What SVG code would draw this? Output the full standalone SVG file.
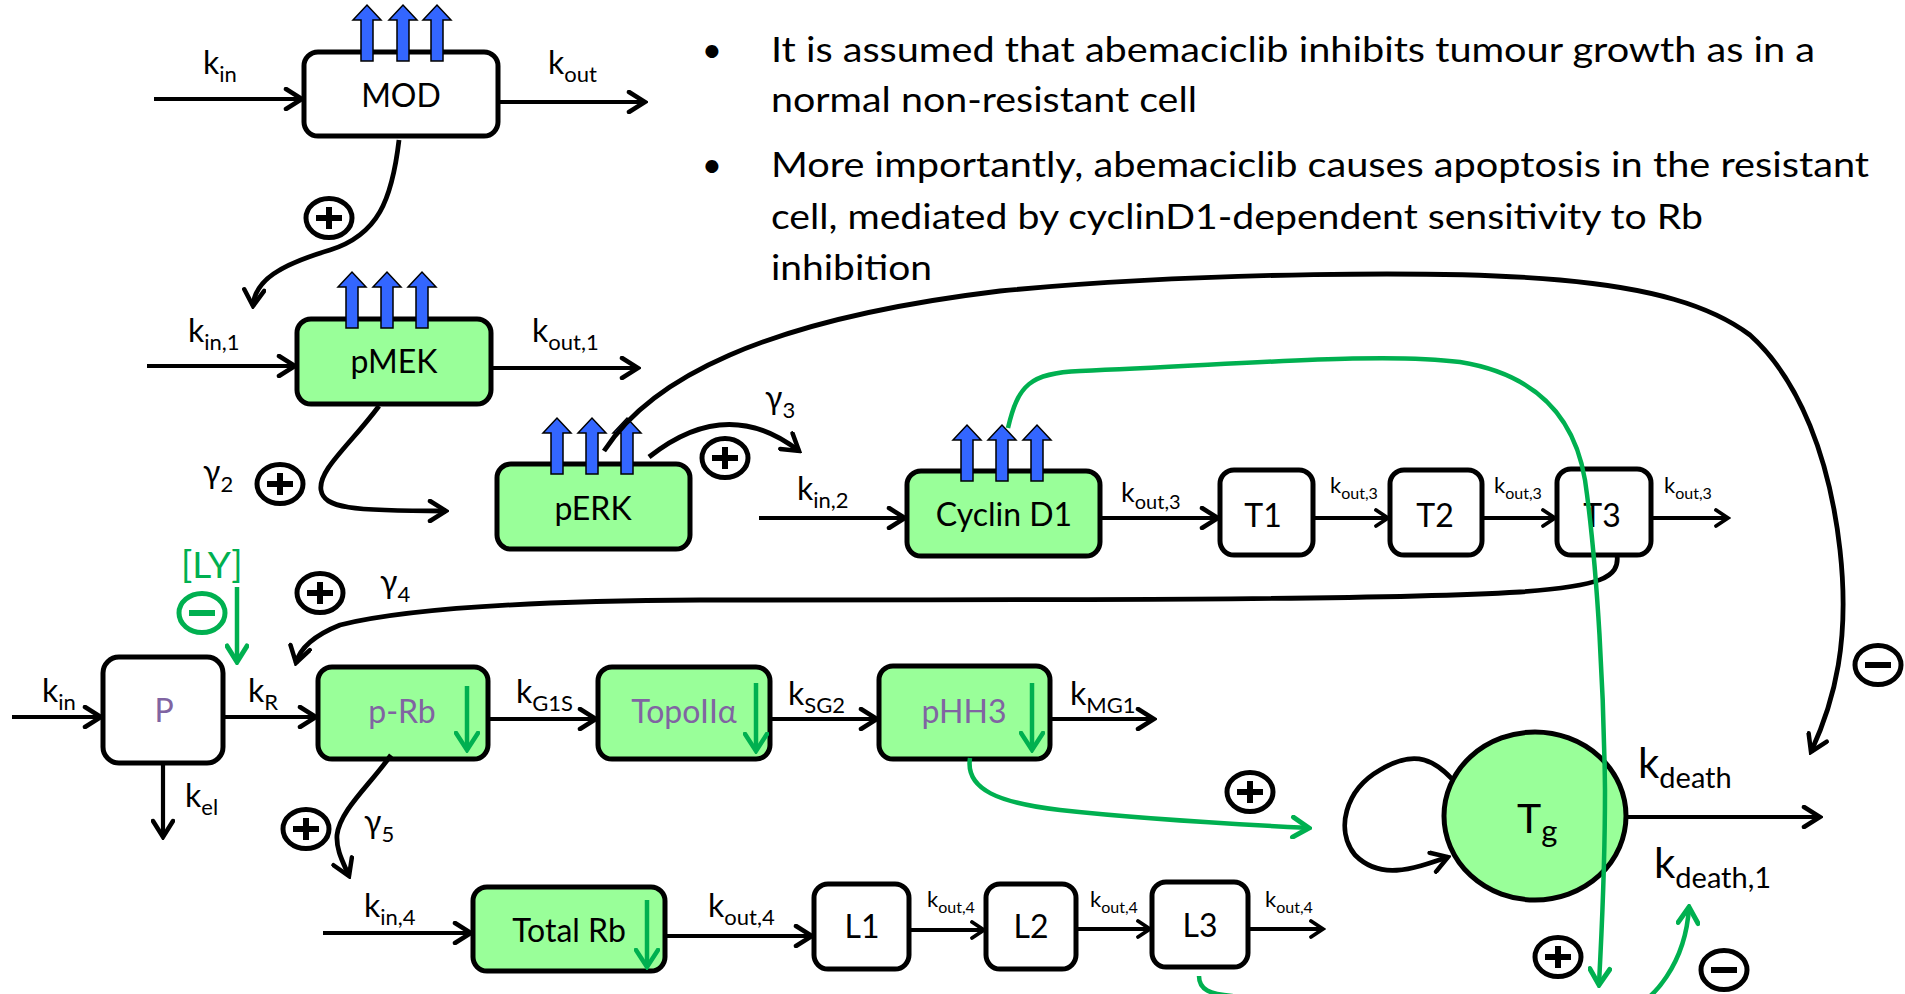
<svg xmlns="http://www.w3.org/2000/svg" xmlns:xlink="http://www.w3.org/1999/xlink" width="1905" height="994" viewBox="0 0 1905 994">
<style>
.box{stroke:#000;stroke-width:5}
.w{fill:#fff}
.g{fill:#99FF99}
text{font-family:Lato,"Liberation Sans",sans-serif;fill:#000}
.lbl{font-size:32px;text-anchor:middle}
.pur{fill:#8064A2}
.k{font-size:32px}
.ks{font-size:22px}
.sm{font-size:22px}
.sms{font-size:16px}
.md{font-size:27px}
.mds{font-size:20px}
.bul{font-size:35px}
.ln{fill:none;stroke:#000;stroke-width:4.2;marker-end:url(#ah)}
.cv{stroke-width:4.8}
.lns{fill:none;stroke:#000;stroke-width:3.8;marker-end:url(#ahs)}
.gl{fill:none;stroke:#00B050;stroke-width:4.5;marker-end:url(#gah)}
.gd{fill:none;stroke:#00B050;stroke-width:4.5;marker-end:url(#gahs)}
.ba{fill:#3366FF;stroke:#000;stroke-width:1.5}
.sym{fill:none;stroke:#000;stroke-width:5}
.bar{stroke:#000;stroke-width:6;fill:none}
.gsym{fill:none;stroke:#00B050;stroke-width:5}
.gbar{stroke:#00B050;stroke-width:6;fill:none}
</style>
<defs>
<marker id="ah" markerUnits="userSpaceOnUse" viewBox="0 0 22 24" markerWidth="22" markerHeight="24" refX="19" refY="12" orient="auto">
<path d="M3,2 L19,12 L3,22" fill="none" stroke="#000" stroke-width="4.5" stroke-linecap="round"/>
</marker>
<marker id="ahs" markerUnits="userSpaceOnUse" viewBox="0 0 18 20" markerWidth="18" markerHeight="20" refX="15" refY="10" orient="auto">
<path d="M3,2 L15,10 L3,18" fill="none" stroke="#000" stroke-width="3.8" stroke-linecap="round"/>
</marker>
<marker id="gah" markerUnits="userSpaceOnUse" viewBox="0 0 22 24" markerWidth="22" markerHeight="24" refX="19" refY="12" orient="auto">
<path d="M3,2 L19,12 L3,22" fill="none" stroke="#00B050" stroke-width="5" stroke-linecap="round"/>
</marker>
<marker id="gahs" markerUnits="userSpaceOnUse" viewBox="0 0 22 26" markerWidth="22" markerHeight="26" refX="19" refY="13" orient="auto">
<path d="M2,2 L19,13 L2,24" fill="none" stroke="#00B050" stroke-width="4.5" stroke-linecap="round"/>
</marker>
<path id="ba" class="ba" d="M-6,0 V-41 H-14 L0,-56 L14,-41 H6 V0 Z"/>
<g id="plus"><ellipse rx="23" ry="19.5" class="sym"/><path class="bar" d="M-13,0 H13 M0,-11 V11"/></g>
<g id="minus"><ellipse rx="23" ry="19.5" class="sym"/><path class="bar" d="M-13,0 H13"/></g>
<g id="gminus"><ellipse rx="23" ry="19.5" class="gsym"/><path class="gbar" d="M-13,0 H13"/></g>
</defs>
<rect width="1905" height="994" fill="#fff"/>

<g id="bullets">
<text class="bul" x="712" y="62" text-anchor="middle">•</text>
<text class="bul" x="771" y="62" textLength="1044" lengthAdjust="spacingAndGlyphs">It is assumed that abemaciclib inhibits tumour growth as in a</text>
<text class="bul" x="771" y="112" textLength="426" lengthAdjust="spacingAndGlyphs">normal non-resistant cell</text>
<text class="bul" x="712" y="177" text-anchor="middle">•</text>
<text class="bul" x="771" y="177" textLength="1098" lengthAdjust="spacingAndGlyphs">More importantly, abemaciclib causes apoptosis in the resistant</text>
<text class="bul" x="771" y="229" textLength="932" lengthAdjust="spacingAndGlyphs">cell, mediated by cyclinD1-dependent sensitivity to Rb</text>
<text class="bul" x="771" y="280" textLength="161" lengthAdjust="spacingAndGlyphs">inhibition</text>
</g>

<g id="MOD">
<rect class="box w" x="304" y="52" width="194" height="84" rx="14"/>
<text class="lbl" x="401" y="107" font-size="32">MOD</text>
<use href="#ba" x="367" y="61"/><use href="#ba" x="403" y="61"/><use href="#ba" x="437" y="61"/>
</g>
<g id="pMEK">
<rect class="box g" x="297" y="319" width="194" height="85" rx="14"/>
<text class="lbl" x="394" y="373" font-size="32">pMEK</text>
<use href="#ba" x="352" y="328"/><use href="#ba" x="387" y="328"/><use href="#ba" x="422" y="328"/>
</g>
<g id="pERK">
<rect class="box g" x="497" y="464" width="193" height="85" rx="14"/>
<text class="lbl" x="593" y="520" font-size="32">pERK</text>
<use href="#ba" x="557" y="474"/><use href="#ba" x="592" y="474"/><use href="#ba" x="627" y="474"/>
</g>
<g id="CyclinD1">
<rect class="box g" x="907" y="471" width="193" height="85" rx="14"/>
<text class="lbl" x="1004" y="526" font-size="34">Cyclin D1</text>
<use href="#ba" x="967" y="481"/><use href="#ba" x="1002" y="481"/><use href="#ba" x="1037" y="481"/>
</g>
<g id="T1">
<rect class="box w" x="1220" y="470" width="93" height="85" rx="14"/>
<text class="lbl" x="1263" y="527" font-size="35">T1</text>
</g>
<g id="T2">
<rect class="box w" x="1390" y="470" width="92" height="85" rx="14"/>
<text class="lbl" x="1435" y="527" font-size="35">T2</text>
</g>
<g id="T3">
<rect class="box w" x="1557" y="469" width="94" height="86" rx="14"/>
<text class="lbl" x="1602" y="527" font-size="35">T3</text>
</g>
<g id="P">
<rect class="box w" x="103" y="657" width="120" height="106" rx="16"/>
<text class="lbl pur" x="164" y="722" font-size="32">P</text>
</g>
<g id="LY">
<text x="181" y="578" font-size="37" style="fill:#00B050">[LY]</text>
<use href="#gminus" x="202" y="613"/>
</g>
<g id="pRb">
<rect class="box g" x="318" y="667" width="170" height="92" rx="14"/>
<text class="lbl pur" x="402" y="723" font-size="32">p-Rb</text>
<path class="gd" d="M467,686 V750"/>
</g>
<g id="TopoIIa">
<rect class="box g" x="598" y="667" width="172" height="92" rx="14"/>
<text class="lbl pur" x="684" y="723" font-size="32">TopoIIα</text>
<path class="gd" d="M756,683 V751"/>
</g>
<g id="pHH3">
<rect class="box g" x="879" y="666" width="171" height="93" rx="14"/>
<text class="lbl pur" x="964" y="723" font-size="32">pHH3</text>
<path class="gd" d="M1032,683 V750"/>
</g>
<g id="TotalRb">
<rect class="box g" x="473" y="887" width="192" height="84" rx="14"/>
<text class="lbl" x="569" y="942" font-size="33">Total Rb</text>
<path class="gd" d="M647,900 V967"/>
</g>
<g id="L1">
<rect class="box w" x="814" y="884" width="95" height="85" rx="14"/>
<text class="lbl" x="862" y="938" font-size="34">L1</text>
</g>
<g id="L2">
<rect class="box w" x="986" y="884" width="90" height="85" rx="14"/>
<text class="lbl" x="1031" y="938" font-size="34">L2</text>
</g>
<g id="L3">
<rect class="box w" x="1152" y="882" width="96" height="85" rx="14"/>
<text class="lbl" x="1200" y="937" font-size="34">L3</text>
</g>
<g id="Tg">
<ellipse class="box g" cx="1535" cy="816" rx="91" ry="84"/>
<text x="1517" y="833" font-size="41">T<tspan font-size="31" dy="9">g</tspan></text>
</g>

<g id="connectors">
<!-- MOD -->
<path class="ln" d="M154,99 L302,99"/>
<text class="k" x="203" y="74">k<tspan class="ks" dy="8">in</tspan></text>
<path class="ln" d="M498,102 L645,102"/>
<text class="k" x="548" y="74">k<tspan class="ks" dy="8">out</tspan></text>
<path class="ln cv" d="M399,140 C392,200 378,235 330,250 C280,265 255,280 253,306"/>
<use href="#plus" x="329" y="218"/>
<!-- pMEK -->
<path class="ln" d="M147,366 L295,366"/>
<text class="k" x="188" y="342">k<tspan class="ks" dy="8">in,1</tspan></text>
<path class="ln" d="M491,368 L638,368"/>
<text class="k" x="532" y="342">k<tspan class="ks" dy="8">out,1</tspan></text>
<path class="ln cv" d="M379,406 C350,445 318,470 321,490 C324,508 350,511 446,511"/>
<text class="k" x="203" y="483">γ<tspan class="ks" dy="9">2</tspan></text>
<use href="#plus" x="280" y="484"/>
<!-- pERK -->
<path class="ln cv" d="M649,457 Q727,395 799,451"/>
<use href="#plus" x="725" y="458"/>
<text class="k" x="765" y="409">γ<tspan class="ks" dy="9">3</tspan></text>
<path class="ln cv" d="M604,451 C650,380 760,320 1000,291 C1200,272 1450,270 1560,280 C1650,288 1710,305 1750,335 C1800,380 1830,460 1840,550 C1850,640 1835,700 1811,752"/>
<use href="#minus" x="1878" y="665"/>
<!-- Cyclin chain -->
<path class="ln" d="M759,518 L905,518"/>
<text class="k" x="797" y="500">k<tspan class="ks" dy="8">in,2</tspan></text>
<path class="ln" d="M1100,518 L1218,518"/>
<text class="md" x="1121" y="502">k<tspan class="mds" dy="7">out,3</tspan></text>
<path class="lns" d="M1313,518 L1388,518"/>
<text class="sm" x="1330" y="493">k<tspan class="sms" dy="6">out,3</tspan></text>
<path class="lns" d="M1482,518 L1555,518"/>
<text class="sm" x="1494" y="493">k<tspan class="sms" dy="6">out,3</tspan></text>
<path class="lns" d="M1651,518 L1728,518"/>
<text class="sm" x="1664" y="493">k<tspan class="sms" dy="6">out,3</tspan></text>
<!-- gamma4 -->
<path class="ln cv" d="M1617,555 C1620,578 1600,586 1520,592 C1400,599 1200,600 700,600 C520,601 400,610 340,625 C315,635 300,648 296,663"/>
<use href="#plus" x="320" y="593"/>
<text class="k" x="380" y="593">γ<tspan class="ks" dy="9">4</tspan></text>
<!-- P row -->
<path class="ln" d="M12,717 L101,717"/>
<text class="k" x="42" y="702">k<tspan class="ks" dy="8">in</tspan></text>
<path class="ln" d="M223,717 L316,717"/>
<text class="k" x="248" y="702">k<tspan class="ks" dy="8">R</tspan></text>
<path class="ln" d="M163,763 L163,837"/>
<text class="k" x="185" y="807">k<tspan class="ks" dy="8">el</tspan></text>
<path class="ln" d="M488,719 L596,719"/>
<text class="k" x="516" y="703">k<tspan class="ks" dy="8">G1S</tspan></text>
<path class="ln" d="M770,719 L877,719"/>
<text class="k" x="788" y="705">k<tspan class="ks" dy="8">SG2</tspan></text>
<path class="ln" d="M1050,719 L1154,719"/>
<text class="k" x="1070" y="705">k<tspan class="ks" dy="8">MG1</tspan></text>
<!-- gamma5 -->
<path class="ln cv" d="M391,755 C370,785 340,810 337,835 C336,850 343,862 349,876"/>
<use href="#plus" x="306" y="829"/>
<text class="k" x="364" y="833">γ<tspan class="ks" dy="9">5</tspan></text>
<!-- Total Rb row -->
<path class="ln" d="M323,933 L471,933"/>
<text class="k" x="364" y="917">k<tspan class="ks" dy="8">in,4</tspan></text>
<path class="ln" d="M665,936 L812,936"/>
<text class="k" x="708" y="917">k<tspan class="ks" dy="8">out,4</tspan></text>
<path class="lns" d="M909,930 L984,930"/>
<text class="sm" x="927" y="907">k<tspan class="sms" dy="6">out,4</tspan></text>
<path class="lns" d="M1076,929 L1150,929"/>
<text class="sm" x="1090" y="907">k<tspan class="sms" dy="6">out,4</tspan></text>
<path class="lns" d="M1248,929 L1323,929"/>
<text class="sm" x="1265" y="907">k<tspan class="sms" dy="6">out,4</tspan></text>
<!-- Tg -->
<path class="ln cv" d="M1453,780 C1430,755 1410,752 1380,770 C1345,790 1335,830 1355,855 C1380,880 1410,870 1448,857"/>
<path class="ln" d="M1626,817 L1820,817"/>
<text x="1638" y="778" font-size="42">k<tspan font-size="29" dy="10">death</tspan></text>
<text x="1654" y="878" font-size="42">k<tspan font-size="29" dy="10">death,1</tspan></text>
<!-- green -->
<path class="gl" d="M237,587 L237,662"/>
<path class="gl" d="M970,758 C965,790 1000,803 1060,810 C1150,820 1250,825 1309,828"/>
<use href="#plus" x="1250" y="792"/>
<path class="gl" d="M1008,428 C1018,385 1030,373 1080,371 C1250,364 1380,352 1460,362 C1540,375 1575,420 1585,480 C1598,570 1604,700 1605,790 C1605,880 1601,940 1599,985"/>
<use href="#plus" x="1558" y="957"/>
<path class="gl" d="M1199,976 C1199,990 1210,994 1232,996 L1300,1012 L1620,1012 C1655,1005 1686,960 1689,907"/>
<use href="#minus" x="1724" y="970"/>
</g>
</svg>
